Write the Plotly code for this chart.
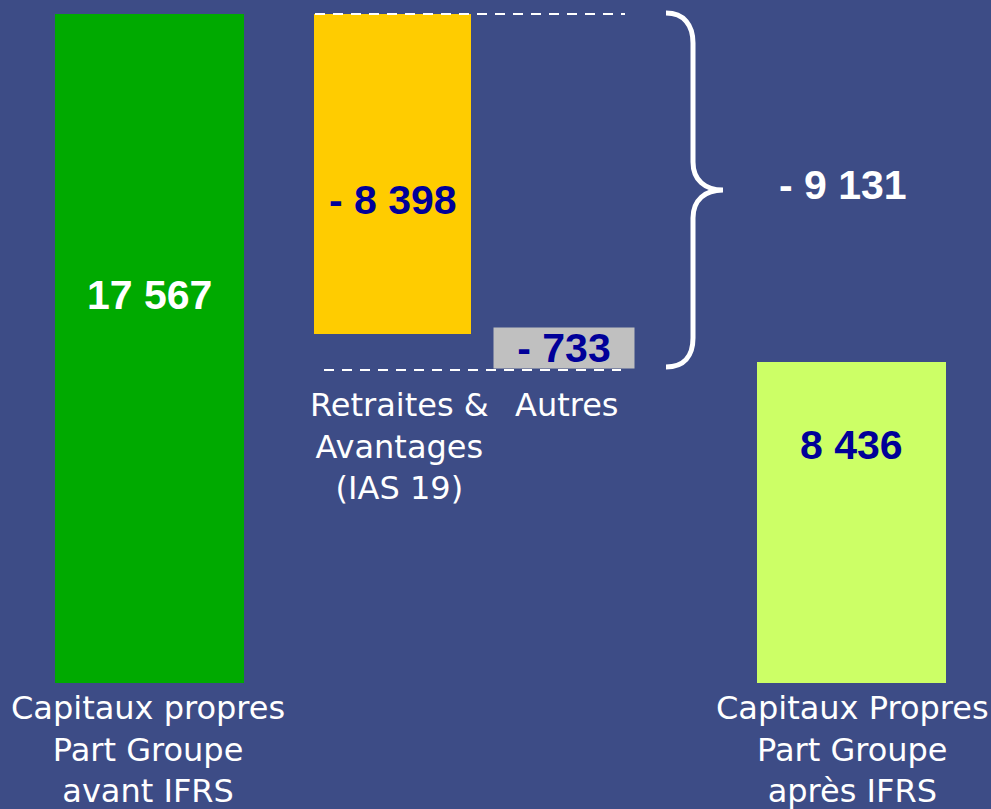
import plotly.graph_objects as go

# ---- data ----
categories = [
    "Capitaux propres<br>Part Groupe<br>avant IFRS",
    "Retraites &<br>Avantages<br>(IAS 19)",
    "Autres",
    "Capitaux Propres<br>Part Groupe<br>après IFRS",
]
values = [17567, -8398, -733, 8436]
value_labels = ["17 567", "- 8 398", "- 733", "8 436"]
total_change_label = "- 9 131"
measures = ["absolute", "relative", "relative", "absolute"]

# ---- styling / layout ----
W, H = 991, 809
BG = "#3d4c86"
colors = ["#00aa00", "#ffcc00", "#c0c0c0", "#ccff66"]
label_colors = ["#ffffff", "#000099", "#000099", "#000099"]
x_centers = [149.5, 392.5, 564, 851.5]
widths = [189, 157, 140, 189]
label_frac = [0.58, 0.58, 0.5, 0.74]   # position of value label inside bar (from base)

# vertical scale: value 0 at pixel 683, 17567 at pixel 14
PX0, PXTOP = 683, 14
ppu = (PX0 - PXTOP) / values[0]
y_range = [-(H - PX0) / ppu, PX0 / ppu]

def py(p):  # pixel y -> paper y
    return 1 - p / H

# compute bases (waterfall)
bases, running = [], 0
for v, m in zip(values, measures):
    if m == "absolute":
        bases.append(0)
        running = v
    else:
        bases.append(running)
        running += v

fig = go.Figure()
for i in range(len(values)):
    fig.add_trace(go.Bar(
        x=[x_centers[i]], y=[values[i]], base=[bases[i]], width=[widths[i]],
        marker=dict(color=colors[i], line=dict(width=0)),
        hoverinfo="skip", showlegend=False,
    ))

annotations = []
font_num = "Liberation Sans, Arial, sans-serif"
font_lbl = "DejaVu Sans, Verdana, sans-serif"
for i in range(len(values)):
    yv = bases[i] + values[i] * label_frac[i]
    ann = dict(x=x_centers[i], y=yv, xref="x", yref="y", text="<b>%s</b>" % value_labels[i],
               showarrow=False, xanchor="center", yanchor="middle",
               font=dict(family=font_num, size=41, color=label_colors[i]))
    if i == 2:
        ann.update(bgcolor=colors[2], width=widths[2], height=40, borderpad=0)
    annotations.append(ann)

# total change label
annotations.append(dict(x=843, y=py(185), xref="x", yref="paper", text="<b>%s</b>" % total_change_label,
                        showarrow=False, xanchor="center", yanchor="middle",
                        font=dict(family=font_num, size=41, color="#ffffff")))

# category labels (x centre, y of the middle of the text block)
cat_pos = [(148, 749), (399, 446), (567, 405), (852, 749)]
for (cx, cy), txt in zip(cat_pos, categories):
    annotations.append(dict(x=cx, y=py(cy), xref="x", yref="paper", text=txt, showarrow=False,
                            xanchor="center", yanchor="middle", align="center",
                            font=dict(family=font_lbl, size=32, color="#ffffff")))

shapes = []
# dashed guide lines
shapes.append(dict(type="line", x0=315, x1=625, y0=values[0], y1=values[0], xref="x", yref="y",
                   line=dict(color="#ffffff", width=2, dash="10px,8px"), layer="above"))
shapes.append(dict(type="line", x0=324, x1=621, y0=py(370), y1=py(370), xref="x", yref="paper",
                   line=dict(color="#ffffff", width=2, dash="10px,8px"), layer="above"))

# brace
def P(x, y):
    return "%.2f,%.4f" % (x, py(y))
path = ("M " + P(666, 13) + " C " + P(684, 13) + " " + P(693, 25) + " " + P(693, 43) +
        " L " + P(693, 162) + " C " + P(693, 180) + " " + P(705, 190) + " " + P(723, 190) +
        " C " + P(705, 190) + " " + P(693, 200) + " " + P(693, 218) +
        " L " + P(693, 338) + " C " + P(693, 356) + " " + P(684, 367) + " " + P(666, 367))
shapes.append(dict(type="path", path=path, xref="x", yref="paper",
                   line=dict(color="#ffffff", width=5), layer="above"))

fig.update_layout(
    width=W, height=H, margin=dict(l=0, r=0, t=0, b=0),
    paper_bgcolor=BG, plot_bgcolor=BG,
    xaxis=dict(range=[0, W], visible=False, fixedrange=True),
    yaxis=dict(range=y_range, visible=False, fixedrange=True),
    annotations=annotations, shapes=shapes, bargap=0,
)
fig.write_html(
    "out.html",
    config={"displayModeBar": False},
    post_script="document.body.style.margin='0';document.body.style.overflow='hidden';"
                "document.body.style.background='%s';" % BG,
)
